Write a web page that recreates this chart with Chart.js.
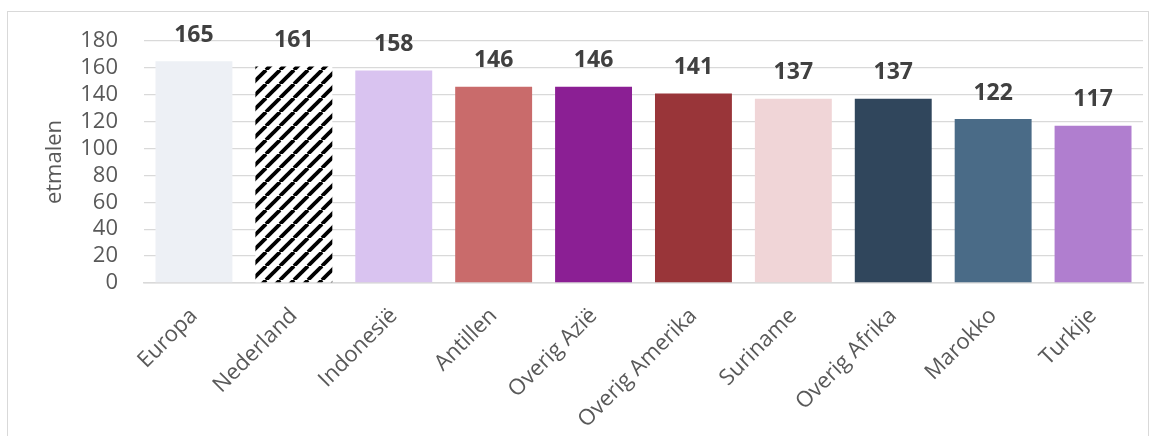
<!DOCTYPE html>
<html><head><meta charset="utf-8">
<script src="https://cdn.jsdelivr.net/npm/chart.js@4"></script>
<style>
html,body{margin:0;padding:0;background:#fff;width:1160px;height:436px;overflow:hidden;}
#frame{position:absolute;left:7px;top:11px;width:1142px;height:440px;border:1px solid #d9d9d9;box-sizing:border-box;}
#wrap{position:absolute;left:0;top:0;width:1160px;height:436px;}
</style></head><body>
<div id="frame"></div>
<div id="wrap"><canvas id="c" width="1160" height="436"></canvas></div>
<script>
const categories = ["Europa","Nederland","Indonesië","Antillen","Overig Azië","Overig Amerika","Suriname","Overig Afrika","Marokko","Turkije"];
const values = [165,161,158,146,146,141,137,137,122,117];
const yTicks = [0,20,40,60,80,100,120,140,160,180];
const barColors = ["#edf0f5","HATCH","#d9c3f0","#c96b6b","#8b1f94","#993539","#f0d5d7","#30465c","#4a6b87","#b07ecf"];

function makeHatch(){
  const s = 14;
  const cv = document.createElement('canvas');
  cv.width = s; cv.height = s;
  const g = cv.getContext('2d');
  g.fillStyle = '#fff'; g.fillRect(0,0,s,s);
  g.strokeStyle = '#000'; g.lineWidth = 3.8;
  for (const o of [-s,0,s]) {
    g.beginPath(); g.moveTo(o, s); g.lineTo(o + s, 0); g.stroke();
  }
  return g.createPattern(cv,'repeat');
}
const ctx = document.getElementById('c').getContext('2d');
const hatch = makeHatch();
const bg = barColors.map(c => c === "HATCH" ? hatch : c);

const labelPlugin = {
  id:'vals',
  afterDatasetsDraw(chart){
    const c = chart.ctx;
    const meta = chart.getDatasetMeta(0);
    c.save();
    c.font = 'bold 23px "Open Sans"';
    c.fillStyle = '#404040';
    c.textAlign = 'center';
    c.textBaseline = 'middle';
    meta.data.forEach((el,i)=>{
      c.fillText(String(values[i]), el.x, el.y - 26);
    });
    c.restore();
  }
};

new Chart(ctx,{
  type:'bar',
  data:{labels:categories,datasets:[{data:values,backgroundColor:bg,borderWidth:0,barPercentage:0.77,categoryPercentage:1}]},
  options:{
    responsive:false,animation:false,
    layout:{padding:{left:42,right:17,top:41,bottom:0}},
    plugins:{legend:{display:false},tooltip:{enabled:false}},
    scales:{
      x:{
        grid:{display:false,drawTicks:false},
        border:{display:true,color:'#d9d9d9',width:1.5},
        ticks:{color:'#595959',font:{family:'Open Sans',size:22},maxRotation:45,minRotation:45,padding:20,autoSkip:false},
        afterFit(a){a.height=153;}
      },
      y:{
        min:0,max:180,
        afterBuildTicks(a){a.ticks = yTicks.map(v=>({value:v}));},
        grid:{color:'#d9d9d9',lineWidth:1.3,drawTicks:false},
        border:{display:false},
        ticks:{color:'#595959',font:{family:'Open Sans',size:22,lineHeight:1},padding:26,autoSkip:false},
        title:{display:true,text:'etmalen',color:'#595959',font:{family:'Open Sans',size:22},padding:{top:0,bottom:0}},
        afterFit(a){a.width=102;}
      }
    }
  },
  plugins:[labelPlugin]
});
</script>
</body></html>
